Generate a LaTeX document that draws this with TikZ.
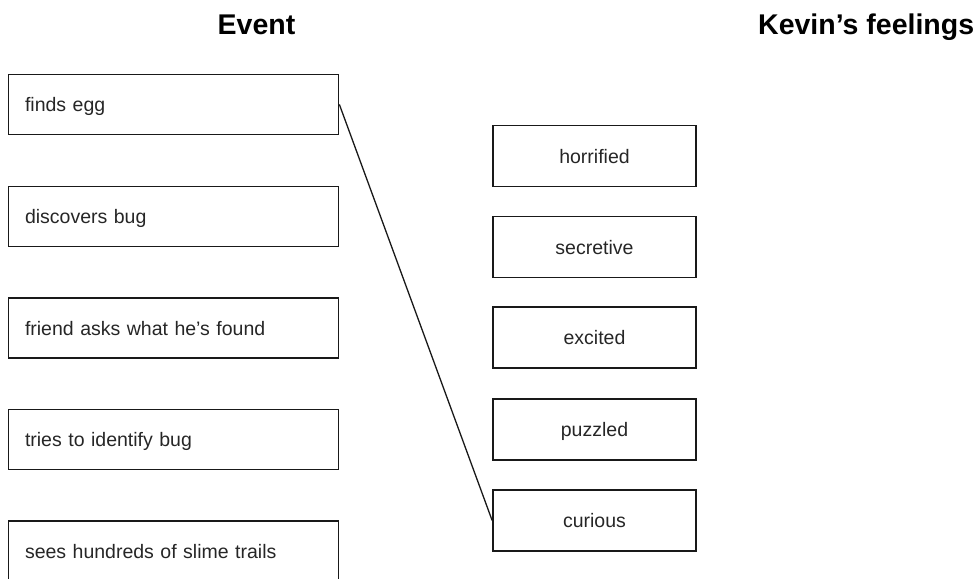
\documentclass[tikz,border=0pt]{standalone}
\usepackage{fontspec}
\setmainfont{Liberation Sans}
\begin{document}
\begin{tikzpicture}[x=1pt,y=-1pt,
  ev/.style={draw=black!90, line width=1.7pt, minimum width=330pt, minimum height=60pt,
    text width=297pt, align=left, inner xsep=16.5pt, inner ysep=0pt,
    text height=14pt, text depth=0pt, font=\fontsize{19.5}{22}\selectfont, text=black!85},
  fe/.style={draw=black!90, line width=1.7pt, minimum width=203pt, minimum height=61pt,
    align=center, inner sep=0pt,
    text height=14pt, text depth=0pt, font=\fontsize{19.5}{22}\selectfont, text=black!85},
  hd/.style={anchor=base west, inner sep=0pt, font=\fontsize{28.5}{32}\selectfont\bfseries},
  link/.style={draw=black!90, line width=1.3pt}]
\useasboundingbox (0,0) rectangle (979,578);
\clip (0,0) rectangle (979,578);
\node[hd] (h1) at (217.5,35) {Event};
\node[hd] (h2) at (758,35) {Kevin’s feelings};
\node[ev] (e1) at (173.5,104.4) {finds egg};
\node[ev] (e2) at (173.5,216.4) {discovers bug};
\node[ev] (e3) at (173.5,328) {friend asks what he’s found};
\node[ev] (e4) at (173.5,439.5) {tries to identify bug};
\node[ev] (e5) at (173.5,551) {sees hundreds of slime trails};
\node[fe] (f1) at (594.5,156) {horrified};
\node[fe] (f2) at (594.5,247) {secretive};
\node[fe] (f3) at (594.5,337.5) {excited};
\node[fe] (f4) at (594.5,429.5) {puzzled};
\node[fe] (f5) at (594.5,520.5) {curious};
\draw[link] (e1.east) -- (f5.west);
\end{tikzpicture}
\end{document}
